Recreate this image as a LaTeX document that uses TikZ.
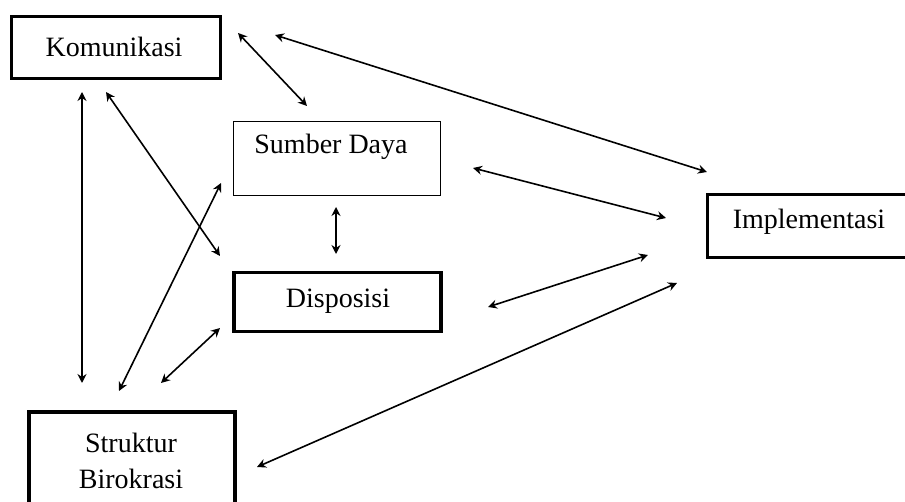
\documentclass[tikz,border=0pt]{standalone}
\usepackage{fontspec}
\setmainfont{Liberation Serif}
\usetikzlibrary{arrows.meta}
\begin{document}
\begin{tikzpicture}[x=1pt,y=-1pt,
  box/.style={draw=black,inner sep=0pt},
  thickbox/.style={box,line width=3.8pt},
  thinbox/.style={box,line width=1.4pt},
  lbl/.style={font=\fontsize{28}{36}\selectfont,inner sep=0pt,align=center},
  tip/.style={Stealth[length=9pt,width=9pt,inset=3pt]},
  arr/.style={line width=1.6pt,{Stealth[length=9pt,width=9pt,inset=3pt]}-{Stealth[length=9pt,width=9pt,inset=3pt]}}]
\useasboundingbox (0,0) rectangle (905,502);
\clip (0,0) rectangle (905,502);
% boxes
\node[thickbox,minimum width=209pt,minimum height=62pt] (kom) at (116,47.5) {};
\node[thinbox,minimum width=207pt,minimum height=74pt] (sum) at (337,158.5) {};
\node[thickbox,minimum width=207pt,minimum height=59pt] (dis) at (337.5,302) {};
\node[thickbox,minimum width=220pt,minimum height=63pt] (imp) at (817.5,226) {};
\node[thickbox,minimum width=206pt,minimum height=110pt] (str) at (132,467) {};
% texts
\node[lbl] (tkom) at (114,47) {Komunikasi};
\node[lbl] (tsum) at (331,147) {Sumber Daya};
\node[lbl] (tdis) at (338,301) {Disposisi};
\node[lbl] (timp) at (809,222) {Implementasi};
\node[lbl] (tstr1) at (131,443) {Struktur};
\node[lbl] (tstr2) at (131,479) {Birokrasi};
% connector end points
\coordinate (a1) at (238,33);  \coordinate (b1) at (307,106);
\coordinate (a2) at (275,35);  \coordinate (b2) at (707,172);
\coordinate (a3) at (82,92);   \coordinate (b3) at (82,383);
\coordinate (a4) at (106,92);  \coordinate (b4) at (220,256);
\coordinate (a5) at (119,391); \coordinate (b5) at (221,183);
\coordinate (a6) at (161,383); \coordinate (b6) at (220,328);
\coordinate (a7) at (336,207); \coordinate (b7) at (336,254);
\coordinate (a8) at (473,168); \coordinate (b8) at (666,218);
\coordinate (a9) at (488,307); \coordinate (b9) at (648,255);
\coordinate (a10) at (257,467); \coordinate (b10) at (677,283);
\foreach \i in {1,...,10} {\draw[arr] (a\i) -- (b\i);}
\end{tikzpicture}
\end{document}
